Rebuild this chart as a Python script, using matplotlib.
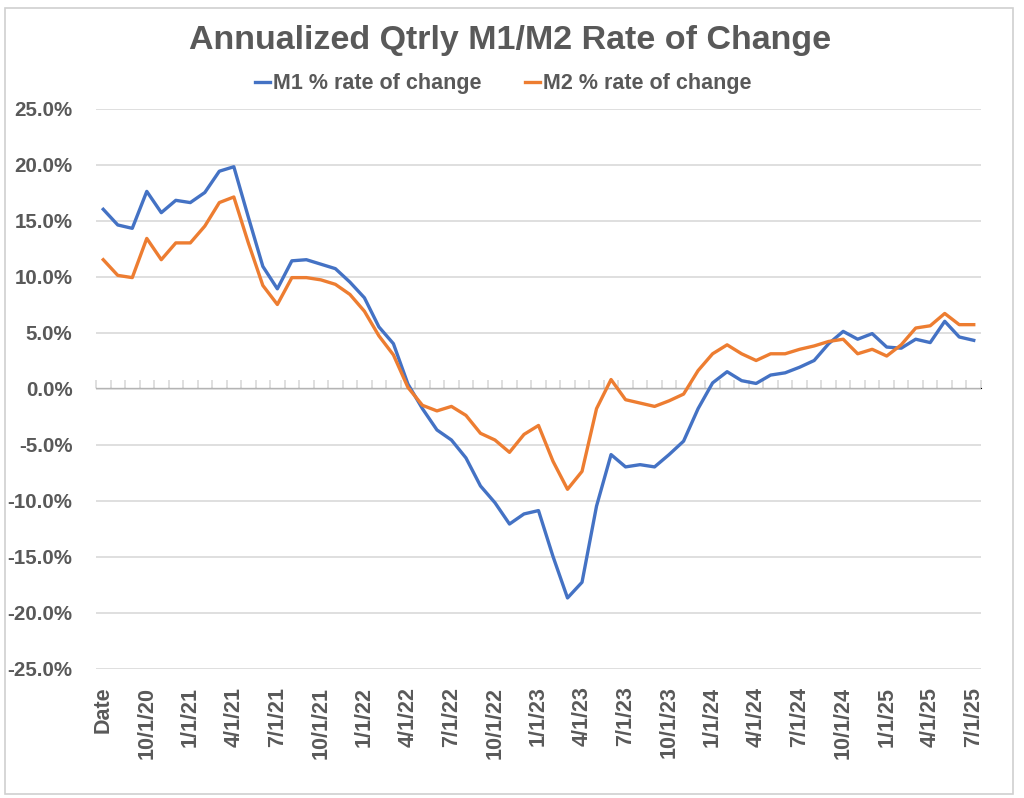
import matplotlib
matplotlib.use("Agg")
import matplotlib.pyplot as plt
from matplotlib.ticker import FuncFormatter, FixedLocator, NullFormatter
from matplotlib.patches import Rectangle
from matplotlib.lines import Line2D

# ---- data ----
months = []
for y in range(20, 26):
    for m in range(1, 13):
        if (y == 20 and m < 8) or (y == 25 and m > 7):
            continue
        months.append(f"{m}/1/{y}")
categories = ["Date"] + months

m1_pct = [16.0, 14.6, 14.3, 17.6, 15.7, 16.8, 16.6, 17.5, 19.4, 19.8,
          15.3, 10.9, 8.9, 11.4, 11.5, 11.1, 10.7, 9.5, 8.1, 5.5,
          4.0, 0.4, -1.8, -3.7, -4.6, -6.2, -8.7, -10.2, -12.1, -11.2,
          -10.9, -15.0, -18.7, -17.3, -10.5, -5.9, -7.0, -6.8, -7.0, -5.9,
          -4.7, -1.8, 0.5, 1.5, 0.7, 0.45, 1.2, 1.4, 1.9, 2.5,
          4.0, 5.1, 4.4, 4.9, 3.7, 3.6, 4.4, 4.1, 6.0, 4.6, 4.3]
m2_pct = [11.5, 10.1, 9.9, 13.4, 11.5, 13.0, 13.0, 14.5, 16.6, 17.1,
          13.0, 9.2, 7.5, 9.9, 9.9, 9.7, 9.3, 8.4, 6.9, 4.7,
          3.0, 0.1, -1.5, -2.0, -1.6, -2.4, -4.0, -4.6, -5.7, -4.1,
          -3.3, -6.5, -9.0, -7.4, -1.8, 0.8, -1.0, -1.3, -1.6, -1.1,
          -0.5, 1.6, 3.1, 3.9, 3.1, 2.5, 3.1, 3.1, 3.5, 3.8,
          4.2, 4.4, 3.1, 3.5, 2.9, 3.9, 5.4, 5.6, 6.7, 5.7, 5.7]
series_names = ["M1 % rate of change", "M2 % rate of change"]
title = "Annualized Qtrly M1/M2 Rate of Change"
y_ticks = [25, 20, 15, 10, 5, 0, -5, -10, -15, -20, -25]

# ---- style ----
FONT = ["Liberation Sans", "DejaVu Sans"]
TXT = "#595959"
GRID = "#d9d9d9"
C1 = "#4472C4"
C2 = "#ED7D31"
plt.rcParams["font.family"] = FONT

fig = plt.figure(figsize=(10.24, 7.98), dpi=100)
fig.patch.set_facecolor("white")
# chart border
fig.patches.append(Rectangle((5/1024, 1-794/798), 1008/1024, 786/798,
                             transform=fig.transFigure, fill=False,
                             edgecolor="#d0d0d0", lw=1.2))

ax = fig.add_axes([96/1024, 1-668.5/798, 885/1024, 560/798])
x = list(range(len(categories)))
ax.plot(x, m1_pct, color=C1, lw=2.4, solid_joinstyle="round", zorder=3)
ax.plot(x, m2_pct, color=C2, lw=2.4, solid_joinstyle="round", zorder=3)

ax.set_xlim(-0.5, len(categories) - 0.5)
ax.set_ylim(-25, 25)
ax.set_yticks(y_ticks)
ax.yaxis.set_major_formatter(FuncFormatter(lambda v, p: f"{v:.1f}%"))
ax.grid(axis="y", color=GRID, lw=1.2, zorder=0)
for s in ax.spines.values():
    s.set_visible(False)

tick_idx = list(range(0, len(categories), 3))
ax.set_xticks(tick_idx)
ax.set_xticklabels([categories[i] for i in tick_idx], rotation=90,
                   va="top", ha="center")
ax.tick_params(axis="x", length=0, pad=13, labelsize=15.5, labelcolor=TXT)
ax.tick_params(axis="y", length=0, pad=17, labelsize=14.8, labelcolor=TXT)
for lab in ax.get_xticklabels() + ax.get_yticklabels():
    lab.set_fontweight("bold")

# zero axis with category boundary ticks
sec = ax.secondary_xaxis(0.5)
sec.xaxis.set_major_locator(FixedLocator([i - 0.5 for i in range(len(categories) + 1)]))
sec.xaxis.set_major_formatter(NullFormatter())
sec.tick_params(axis="x", direction="out", length=6, width=1.2, color=GRID)
sec.spines["bottom"].set_color(GRID)
sec.spines["bottom"].set_linewidth(1.2)

fig.text(510/1024, 1-40/798, title, ha="center", va="center",
         fontsize=24.5, fontweight="bold", color=TXT)

handles = [Line2D([0], [0], color=C1, lw=2.4), Line2D([0], [0], color=C2, lw=2.4)]
leg = fig.legend(handles, series_names, loc="center", ncol=2,
                 bbox_to_anchor=(503/1024, 1-84/798), frameon=False,
                 handlelength=0.7, handletextpad=0.15, columnspacing=2.0,
                 prop={"size": 15.5, "weight": "bold"})
for t in leg.get_texts():
    t.set_color(TXT)

fig.savefig("out.png", dpi=100, facecolor="white")
